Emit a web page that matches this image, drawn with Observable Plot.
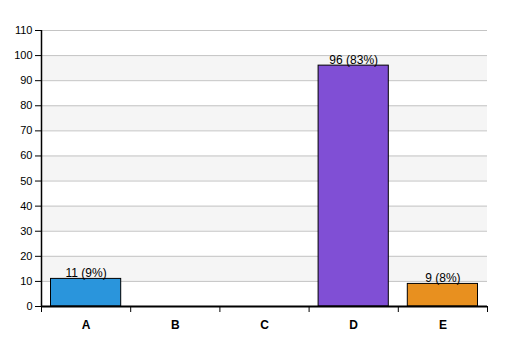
<!DOCTYPE html>
<html><head><meta charset="utf-8">
<script src="https://cdn.jsdelivr.net/npm/d3@7"></script>
<script src="https://cdn.jsdelivr.net/npm/@observablehq/plot@0.6"></script>
<style>body{margin:0;background:#fff}</style>
</head><body><div id="chart"></div>
<script>
const categories = ["A","B","C","D","E"];
const counts = [11, 0, 0, 96, 9];
const colors = ["#2a95dc","#888888","#888888","#804fd5","#e8901f"];
const yTicks = d3.range(0, 111, 10);
const shadedBands = [10, 30, 50, 70, 90];

const total = d3.sum(counts);
const data = categories.map((c, i) => ({cat: c, i, value: counts[i], color: colors[i],
  label: `${counts[i]} (${Math.round(counts[i] / total * 100)}%)`}));

const chart = Plot.plot({
  width: 507, height: 356,
  marginLeft: 41, marginRight: 20, marginTop: 30, marginBottom: 50,
  style: {fontFamily: "Liberation Sans, Arial, sans-serif", fontSize: "11px", color: "#000", background: "#fff"},
  x: {domain: [0, categories.length], axis: null, label: null},
  y: {domain: [0, 110], axis: null, label: null},
  marks: [
    Plot.rectY(shadedBands, {x1: 0, x2: categories.length, y1: d => d, y2: d => d + 10, fill: "#f5f5f5"}),
    Plot.ruleY(yTicks, {stroke: "#c4c4c4", strokeWidth: 1}),
    Plot.rectY(data.filter(d => d.value > 0), {x1: d => d.i, x2: d => d.i + 1, y1: 0, y2: "value", fill: "color",
      stroke: "#000", strokeWidth: 1, insetLeft: 9.5, insetRight: 9.5}),
    Plot.text(data.filter(d => d.value > 0), {x: d => d.i + 0.5, y: "value", text: "label", lineAnchor: "bottom", dy: -2, fontSize: 12, fill: "#000"}),
    Plot.axisY(yTicks, {tickSize: 6, tickPadding: 3, fontSize: 11, stroke: "#000", label: null}),
    Plot.axisX(d3.range(0, categories.length + 1), {tickSize: 6, tickFormat: () => "", stroke: "#000", label: null}),
    Plot.axisX(categories.map((c, i) => i + 0.5), {tickSize: 0, tickPadding: 14, tickFormat: v => categories[Math.floor(v)], fontSize: 12, fontWeight: "bold", label: null}),
    Plot.ruleX([0], {stroke: "#000", strokeWidth: 1.5}),
    Plot.ruleY([0], {stroke: "#000", strokeWidth: 2})
  ]
});
document.getElementById("chart").append(chart);
</script></body></html>
